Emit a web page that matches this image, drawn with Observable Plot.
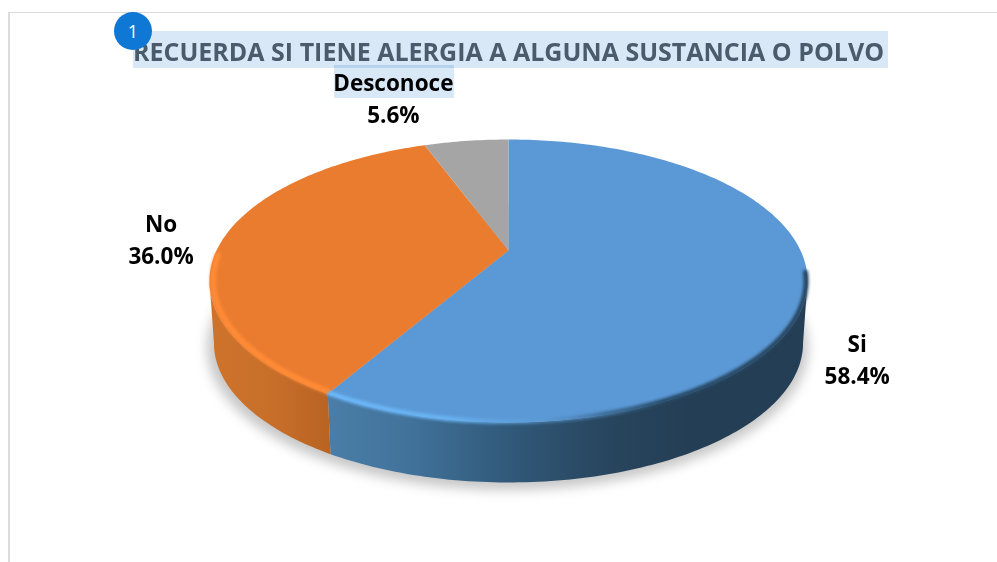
<!DOCTYPE html>
<html>
<head>
<meta charset="utf-8">
<script src="https://cdn.jsdelivr.net/npm/d3@7"></script>
<script src="https://cdn.jsdelivr.net/npm/@observablehq/plot@0.6"></script>
<style>
  html, body { margin: 0; padding: 0; background: #fff; overflow: hidden; }
  #page { position: relative; width: 997px; height: 562px; }
  #page > * { position: absolute; }
  #frameTop { left: 8px; top: 12px; width: 989px; height: 1px; background: #d9d9d9; }
  #frameLeft { left: 8px; top: 12px; width: 2px; height: 550px; background: #dcdcdc; }
  #titleBg { left: 133px; top: 31px; width: 755px; height: 37px; background: #d9e8f6; }
  #labelBg { left: 334px; top: 65px; width: 120px; height: 33px; background: #d9e8f6; mix-blend-mode: multiply; }
  #title { left: 133px; top: 31px; width: 755px; height: 37px; margin: 0; white-space: nowrap;
           font: 700 25px/41px "Open Sans", sans-serif; color: #4a5c6c; }
  #badge { left: 114px; top: 12px; width: 38px; height: 38px; border-radius: 50%; background: #0f78d4; color: #fff;
           font: 400 18px/38px "Open Sans", sans-serif; text-align: center; }
  svg { left: 0; top: 0; background: transparent !important; }
</style>
</head>
<body>
<div id="page">
  <div id="frameTop"></div>
  <div id="frameLeft"></div>
  <div id="titleBg"></div>
  <div id="labelBg"></div>
  <div id="chart"></div>
  <h1 id="title">RECUERDA SI TIENE ALERGIA A ALGUNA SUSTANCIA O POLVO</h1>
  <div id="badge">1</div>
</div>
<script>
const categories = ["Si", "No", "Desconoce"];
const percents = [58.4, 36.0, 5.6];
const topColors = ["#5b99d6", "#ea7c30", "#a5a5a5"];

// Perspective of the tilted disc (unit-disc angle -> chart coordinates)
const tilt = 0.2155;
const wallDepth = 0.464;   // thickness of the disc, in y units
const wallScale = 0.985;
const rad = d => d * Math.PI / 180;
const project = (deg, s = 1, drop = 0) => {
  const w = 1 + tilt * Math.cos(rad(deg));
  return { x: s * Math.sin(rad(deg)) / w, y: s * Math.cos(rad(deg)) / w - drop };
};
const arc = (a, b, s, drop) => {
  const n = Math.max(2, Math.ceil(Math.abs(b - a)));
  return d3.range(n + 1).map(i => project(a + (b - a) * i / n, s, drop));
};

// Slice angles from the values, clockwise from the top
let running = 0;
const slices = categories.map((name, i) => {
  const start = running * 3.6;
  running += percents[i];
  return { name, percent: percents[i], start, end: running * 3.6, color: topColors[i] };
});
const [si, no, des] = slices;
const rightEdge = 102.4, leftEdge = 257.6;

const face = s => [project(0 + s.start, 0), ...arc(s.start, s.end), project(0, 0)];
const wall = (a, b) => [...arc(a, b), ...arc(b, a, wallScale, wallDepth)];

const defs = () => {
  const root = d3.create("svg:defs");
  const grad = (id, stops) => {
    const g = root.append("linearGradient").attr("id", id)
      .attr("gradientUnits", "userSpaceOnUse")
      .attr("x1", 208).attr("x2", 806).attr("y1", 0).attr("y2", 0);
    stops.forEach(([o, c, a = 1]) => g.append("stop").attr("offset", o).attr("stop-color", c).attr("stop-opacity", a));
  };
  grad("wallBlue", [[0.2, "#4a7ea8"], [0.34, "#41729a"], [0.5, "#31597a"], [0.66, "#28465f"], [0.8, "#243e55"], [1, "#243e55"]]);
  grad("wallOrange", [[0, "#cd732c"], [0.1, "#c86f2a"], [0.21, "#b86323"]]);
  grad("rimBlue", [[0.2, "#6cb8fa"], [0.4, "#68b2f2"], [0.56, "#5b9bd5", 0.6], [0.66, "#3f6f9a"], [0.76, "#274a66"], [1, "#26445e"]]);
  return root.node();
};

const chart = Plot.plot({
  width: 997,
  height: 562,
  margin: 0,
  x: { domain: [-1, 1], range: [216, 800], axis: null },
  y: { domain: [-1, 1], range: [384.9, 115.1], axis: null },
  marks: [
    defs,
    Plot.line(arc(0, 360, 1.005, wallDepth + 0.03), { x: "x", y: "y", fill: "#000", fillOpacity: 0.22, stroke: "none", dx: -1, imageFilter: "blur(6px)" }),
    Plot.line(wall(rightEdge, si.end), { x: "x", y: "y", fill: "url(#wallBlue)", stroke: "none" }),
    Plot.line(wall(si.end, leftEdge), { x: "x", y: "y", fill: "url(#wallOrange)", stroke: "none" }),
    ...slices.map(s => Plot.line(face(s), { x: "x", y: "y", fill: s.color, stroke: "none" })),
    Plot.line(arc(99, si.end, 0.995), { x: "x", y: "y", stroke: "url(#rimBlue)", strokeWidth: 5, fill: "none", imageFilter: "blur(1.6px)" }),
    Plot.line(arc(si.end + 0.8, 268, 0.988), { x: "x", y: "y", stroke: "#ff8b36", strokeWidth: 6, fill: "none", imageFilter: "blur(1.4px)" }),
    ...slices.map((s, i) => {
      const mid = project((s.start + s.end) / 2);
      const offset = [[50, 70], [-62, -1], [-73, -44]][i];
      return Plot.text([`${s.name}\n${s.percent.toFixed(1)}%`], {
        x: mid.x, y: mid.y, text: d => d,
        dx: offset[0], dy: offset[1],
        fontSize: 22.5, fontWeight: 700, fontFamily: "'Open Sans', sans-serif",
        lineHeight: 1.42, fill: "#000", textAnchor: "middle", lineAnchor: "middle"
      });
    })
  ]
});
document.getElementById("chart").append(chart);
</script>
</body>
</html>
